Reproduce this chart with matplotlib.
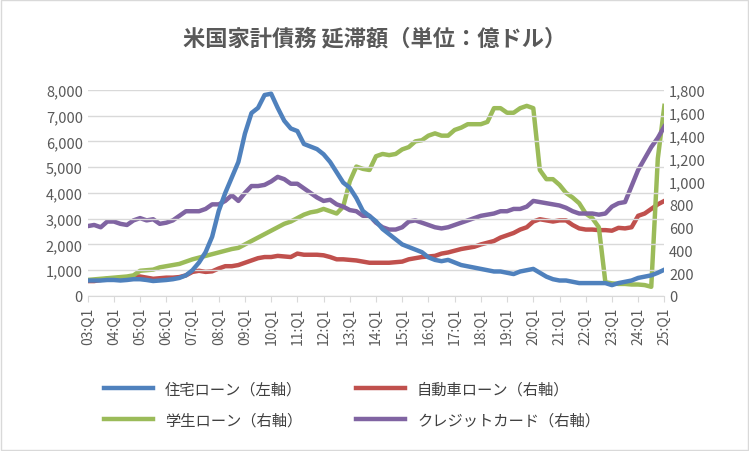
import numpy as np
import matplotlib.pyplot as plt
from matplotlib.ticker import FuncFormatter, MultipleLocator

plt.rcParams["font.family"] = ["Noto Sans CJK JP", "DejaVu Sans"]

# quarterly, 03:Q1 .. 25:Q1
quarters = [f"{y:02d}:Q{q}" for y in range(3, 26) for q in range(1, 5)][:89]

housing = [600, 600, 600, 620, 620, 600, 620, 650, 650, 620, 580, 600, 620, 650, 700, 800,
           1000, 1300, 1700, 2300, 3300, 4000, 4600, 5200, 6300, 7100, 7300, 7800,
           7850, 7300, 6800, 6500, 6400, 5900, 5800, 5700, 5500, 5200, 4800, 4400,
           4200, 3800, 3300, 3100, 2900, 2600, 2400, 2200, 2000, 1900, 1800, 1700,
           1500, 1400, 1350, 1400, 1300, 1200, 1150, 1100, 1050, 1000, 950, 950,
           900, 850, 950, 1000, 1050, 900, 750, 650, 600, 600, 550, 500,
           500, 500, 500, 500, 420, 500, 550, 600, 700, 750, 800, 900, 1020]
auto = [130, 130, 140, 150, 150, 160, 160, 170, 170, 160, 150, 155, 160, 160, 165, 180,
        210, 220, 210, 215, 240, 260, 260, 270, 290, 310, 330, 340, 340, 350, 345, 340,
        370, 360, 360, 360, 355, 340, 320, 320, 315, 310, 300, 290, 290, 290, 290, 295,
        300, 320, 330, 340, 345, 350, 370, 380, 395, 410, 420, 430, 450, 465, 480, 510,
        530, 550, 580, 600, 650, 670, 660, 650, 660, 660, 620, 590, 580, 580, 575, 575,
        570, 595, 590, 600, 700, 720, 760, 800, 830]
student = [140, 145, 150, 155, 160, 165, 170, 180, 220, 225, 230, 250, 260, 270, 280, 300,
           320, 335, 350, 365, 380, 395, 410, 420, 450, 480, 510, 540, 570, 600, 630, 650,
           680, 710, 730, 740, 760, 740, 720, 780, 1000, 1130, 1110, 1100, 1220, 1240, 1230, 1240,
           1280, 1300, 1350, 1360, 1400, 1420, 1400, 1400, 1450, 1470, 1500, 1500,
           1500, 1520, 1640, 1640, 1600, 1600, 1640, 1660, 1640, 1100, 1020, 1020,
           970, 900, 860, 810, 720, 680, 600, 120, 110, 105, 105, 100, 100, 95, 80, 1200, 1660]
credit = [610, 620, 600, 650, 650, 630, 620, 660, 680, 660, 670, 630, 640, 660, 700, 740,
          740, 740, 760, 800, 800, 830, 880, 830, 900, 960, 960, 970, 1000, 1040, 1020, 980,
          980, 940, 900, 860, 830, 840, 800, 780, 750, 740, 700, 700, 640, 600, 580, 580,
          600, 650, 660, 640, 620, 600, 590, 600, 620, 640, 660, 680, 700, 710, 720, 740,
          740, 760, 760, 780, 830, 820, 810, 800, 790, 770, 740, 720, 720, 720, 710, 720,
          780, 810, 820, 960, 1100, 1200, 1300, 1380, 1480]

fig = plt.figure(figsize=(7.49, 4.52), dpi=100)
ax = fig.add_axes([0.117, 0.343, 0.77, 0.456])
ax2 = ax.twinx()
x = np.arange(len(quarters))

lw = 3.2
l1, = ax.plot(x, housing, color="#4F81BD", lw=lw, label="住宅ローン（左軸）")
l2, = ax2.plot(x, auto, color="#C0504D", lw=lw, label="自動車ローン（右軸）")
l3, = ax2.plot(x, student, color="#9BBB59", lw=lw, label="学生ローン（右軸）")
l4, = ax2.plot(x, credit, color="#8064A2", lw=lw, label="クレジットカード（右軸）")
ax.set_zorder(ax2.get_zorder() + 1)
ax.patch.set_visible(False)

ax.set_ylim(0, 8000)
ax2.set_ylim(0, 1800)
ax.yaxis.set_major_locator(MultipleLocator(1000))
ax2.yaxis.set_major_locator(MultipleLocator(200))
fmt = FuncFormatter(lambda v, p: f"{int(v):,}")
ax.yaxis.set_major_formatter(fmt)
ax2.yaxis.set_major_formatter(fmt)
ax.grid(axis="y", color="#D9D9D9", lw=1)
ax.set_xlim(0, len(x) - 1)
ax.set_xticks(x[::4])
ax.set_xticklabels(quarters[::4], rotation=90, fontsize=10, color="#595959")
for a in (ax, ax2):
    for s in a.spines.values():
        s.set_visible(False)
    a.tick_params(axis="y", length=0, labelsize=10.5, labelcolor="#595959")
ax.spines["bottom"].set_visible(True)
ax.spines["bottom"].set_color("#D9D9D9")
ax.tick_params(axis="x", length=4, color="#D9D9D9")

fig.suptitle("米国家計債務 延滞額（単位：億ドル）", y=0.94, fontsize=16,
             fontweight="bold", color="#595959")
fig.legend(handles=[l1, l3, l2, l4], loc="lower center", ncol=2, frameon=False,
           bbox_to_anchor=(0.47, 0.02), fontsize=11, columnspacing=3.5, handlelength=3.2,
           labelspacing=0.9, labelcolor="#404040")
fig.patches.append(plt.Rectangle((0.002, 0.002), 0.996, 0.996, transform=fig.transFigure,
                                 fill=False, edgecolor="#D9D9D9", lw=1))
fig.savefig("out.png", dpi=100)
